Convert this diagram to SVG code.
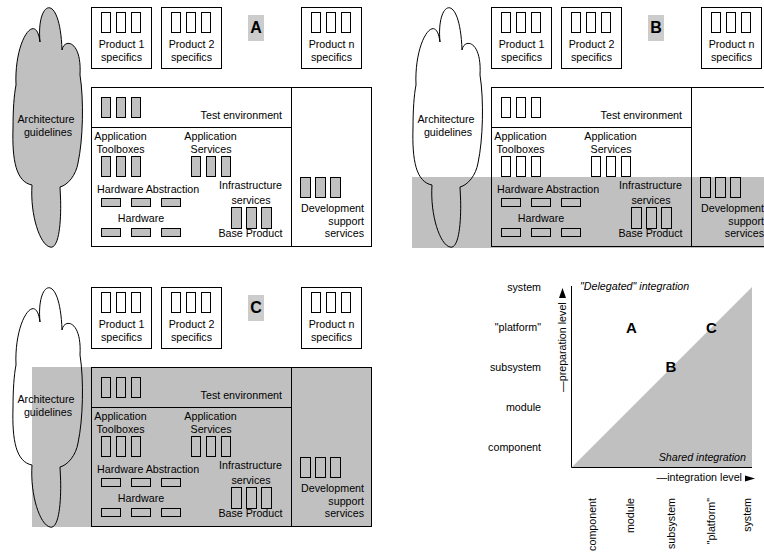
<svg xmlns="http://www.w3.org/2000/svg" width="764" height="553" viewBox="0 0 764 553">
<style>
.box{fill:none;stroke:#000;stroke-width:1}
.gbox{fill:#c0c0c0;stroke:#000;stroke-width:1}
.band{fill:#c0c0c0;stroke:none}
.lab{fill:#cccccc;stroke:none}
.ln{stroke:#000;stroke-width:1;fill:none}
.ah{fill:#000;stroke:none}
text{font-family:"Liberation Sans",Arial,Helvetica,sans-serif;font-size:10.7px;fill:#000}
.m{text-anchor:middle}
.e{text-anchor:end}
.i{font-style:italic}
.big{font-weight:bold;font-size:16px}
.mid{font-weight:bold;font-size:15px}
</style>
<defs>
<path id="cloud" d="M50,247 C40,245 30,215 32,185 C16,182 12,160 13,128 C13,110 14,95 16,85 C14,40 36,10 40,42 C36,0 60,-10 62,50 C64,38 82,40 80,75 C84,100 83,140 78,163 C76,175 68,185 60,187 C62,215 60,250 50,247 Z"/>
</defs>

<!-- ================= Panel A ================= -->
<g id="panelA">
  <g id="A-cloud">
    <use href="#cloud" class="gbox"/>
    <text class="m" x="46" y="123">Architecture</text>
    <text class="m" x="48" y="136">guidelines</text>
  </g>
  <g id="A-prod1">
    <rect class="box" x="91.5" y="7.5" width="60" height="61"/>
    <rect class="box" x="101.5" y="12.5" width="9" height="20"/><rect class="box" x="116.5" y="12.5" width="9" height="20"/><rect class="box" x="131.5" y="12.5" width="9" height="20"/>
    <text class="m" x="121.5" y="47.5">Product 1</text><text class="m" x="121.5" y="61">specifics</text>
  </g>
  <g id="A-prod2">
    <rect class="box" x="161.5" y="7.5" width="60" height="61"/>
    <rect class="box" x="171.5" y="12.5" width="9" height="20"/><rect class="box" x="186.5" y="12.5" width="9" height="20"/><rect class="box" x="201.5" y="12.5" width="9" height="20"/>
    <text class="m" x="191.5" y="47.5">Product 2</text><text class="m" x="191.5" y="61">specifics</text>
  </g>
  <g id="A-label"><rect class="lab" x="248" y="15" width="16" height="26"/><text class="m big" x="256" y="33">A</text></g>
  <g id="A-prodn">
    <rect class="box" x="301.5" y="7.5" width="60" height="61"/>
    <rect class="box" x="311.5" y="12.5" width="9" height="20"/><rect class="box" x="326.5" y="12.5" width="9" height="20"/><rect class="box" x="341.5" y="12.5" width="9" height="20"/>
    <text class="m" x="331.5" y="47.5">Product n</text><text class="m" x="331.5" y="61">specifics</text>
  </g>
  <g id="A-main">
    <rect class="box" x="91.5" y="87.5" width="280" height="159"/>
    <path class="ln" d="M291.5,87.5V246.5M91.5,127.5H291.5"/>
  </g>
  <g id="A-test">
    <rect class="gbox" x="101.5" y="97.5" width="9" height="20"/><rect class="gbox" x="116.5" y="97.5" width="9" height="20"/><rect class="gbox" x="131.5" y="97.5" width="9" height="20"/>
    <text class="e" x="282" y="119">Test environment</text>
  </g>
  <g id="A-toolboxes">
    <text class="m" x="120.5" y="139.5">Application</text><text class="m" x="120.5" y="153">Toolboxes</text>
    <rect class="gbox" x="101.5" y="156.5" width="9" height="20"/><rect class="gbox" x="116.5" y="156.5" width="9" height="20"/><rect class="gbox" x="131.5" y="156.5" width="9" height="20"/>
  </g>
  <g id="A-services">
    <text class="m" x="210.5" y="139.5">Application</text><text class="m" x="211" y="153">Services</text>
    <rect class="gbox" x="191.5" y="156.5" width="9" height="20"/><rect class="gbox" x="206.5" y="156.5" width="9" height="20"/><rect class="gbox" x="221.5" y="156.5" width="9" height="20"/>
  </g>
  <g id="A-hwabs">
    <text x="97" y="193">Hardware Abstraction</text>
    <rect class="gbox" x="101.5" y="198.5" width="19" height="8"/><rect class="gbox" x="131.5" y="198.5" width="19" height="8"/><rect class="gbox" x="161.5" y="198.5" width="19" height="8"/>
  </g>
  <g id="A-hw">
    <text class="m" x="141" y="222">Hardware</text>
    <rect class="gbox" x="101.5" y="228.5" width="19" height="8"/><rect class="gbox" x="131.5" y="228.5" width="19" height="8"/><rect class="gbox" x="161.5" y="228.5" width="19" height="8"/>
  </g>
  <g id="A-infra">
    <text class="m" x="250.5" y="189">Infrastructure</text><text class="m" x="251" y="203.5">services</text>
    <rect class="gbox" x="231.5" y="207.5" width="10" height="21"/><rect class="gbox" x="246.5" y="207.5" width="10" height="21"/><rect class="gbox" x="261.5" y="207.5" width="10" height="21"/>
    <text class="m" x="250.5" y="237">Base Product</text>
  </g>
  <g id="A-dev">
    <rect class="gbox" x="300.5" y="177.5" width="10" height="20"/><rect class="gbox" x="315.5" y="177.5" width="10" height="20"/><rect class="gbox" x="330.5" y="177.5" width="10" height="20"/>
    <text class="e" x="364" y="212">Development</text><text class="e" x="364" y="224.5">support</text><text class="e" x="364" y="237">services</text>
  </g>
</g>

<!-- ================= Panel B ================= -->
<g id="panelB" transform="translate(400,0)">
  <rect class="band" x="12" y="177" width="360" height="71"/>
  <g id="B-cloud">
    <use href="#cloud" class="box"/>
    <text class="m" x="46" y="123">Architecture</text>
    <text class="m" x="48" y="136">guidelines</text>
  </g>
  <g id="B-prod1">
    <rect class="box" x="91.5" y="7.5" width="60" height="61"/>
    <rect class="box" x="101.5" y="12.5" width="9" height="20"/><rect class="box" x="116.5" y="12.5" width="9" height="20"/><rect class="box" x="131.5" y="12.5" width="9" height="20"/>
    <text class="m" x="121.5" y="47.5">Product 1</text><text class="m" x="121.5" y="61">specifics</text>
  </g>
  <g id="B-prod2">
    <rect class="box" x="161.5" y="7.5" width="60" height="61"/>
    <rect class="box" x="171.5" y="12.5" width="9" height="20"/><rect class="box" x="186.5" y="12.5" width="9" height="20"/><rect class="box" x="201.5" y="12.5" width="9" height="20"/>
    <text class="m" x="191.5" y="47.5">Product 2</text><text class="m" x="191.5" y="61">specifics</text>
  </g>
  <g id="B-label"><rect class="lab" x="248" y="15" width="16" height="26"/><text class="m big" x="256" y="33">B</text></g>
  <g id="B-prodn">
    <rect class="box" x="301.5" y="7.5" width="60" height="61"/>
    <rect class="box" x="311.5" y="12.5" width="9" height="20"/><rect class="box" x="326.5" y="12.5" width="9" height="20"/><rect class="box" x="341.5" y="12.5" width="9" height="20"/>
    <text class="m" x="331.5" y="47.5">Product n</text><text class="m" x="331.5" y="61">specifics</text>
  </g>
  <g id="B-main">
    <rect class="box" x="91.5" y="87.5" width="280" height="159"/>
    <path class="ln" d="M291.5,87.5V246.5M91.5,127.5H291.5"/>
  </g>
  <g id="B-test">
    <rect class="box" x="101.5" y="97.5" width="9" height="20"/><rect class="box" x="116.5" y="97.5" width="9" height="20"/><rect class="box" x="131.5" y="97.5" width="9" height="20"/>
    <text class="e" x="282" y="119">Test environment</text>
  </g>
  <g id="B-toolboxes">
    <text class="m" x="120.5" y="139.5">Application</text><text class="m" x="120.5" y="153">Toolboxes</text>
    <rect class="box" x="101.5" y="156.5" width="9" height="20"/><rect class="box" x="116.5" y="156.5" width="9" height="20"/><rect class="box" x="131.5" y="156.5" width="9" height="20"/>
  </g>
  <g id="B-services">
    <text class="m" x="210.5" y="139.5">Application</text><text class="m" x="211" y="153">Services</text>
    <rect class="box" x="191.5" y="156.5" width="9" height="20"/><rect class="box" x="206.5" y="156.5" width="9" height="20"/><rect class="box" x="221.5" y="156.5" width="9" height="20"/>
  </g>
  <g id="B-hwabs">
    <text x="97" y="193">Hardware Abstraction</text>
    <rect class="box" x="101.5" y="198.5" width="19" height="8"/><rect class="box" x="131.5" y="198.5" width="19" height="8"/><rect class="box" x="161.5" y="198.5" width="19" height="8"/>
  </g>
  <g id="B-hw">
    <text class="m" x="141" y="222">Hardware</text>
    <rect class="box" x="101.5" y="228.5" width="19" height="8"/><rect class="box" x="131.5" y="228.5" width="19" height="8"/><rect class="box" x="161.5" y="228.5" width="19" height="8"/>
  </g>
  <g id="B-infra">
    <text class="m" x="250.5" y="189">Infrastructure</text><text class="m" x="251" y="203.5">services</text>
    <rect class="box" x="231.5" y="207.5" width="10" height="21"/><rect class="box" x="246.5" y="207.5" width="10" height="21"/><rect class="box" x="261.5" y="207.5" width="10" height="21"/>
    <text class="m" x="250.5" y="237">Base Product</text>
  </g>
  <g id="B-dev">
    <rect class="box" x="300.5" y="177.5" width="10" height="20"/><rect class="box" x="315.5" y="177.5" width="10" height="20"/><rect class="box" x="330.5" y="177.5" width="10" height="20"/>
    <text class="e" x="364" y="212">Development</text><text class="e" x="364" y="224.5">support</text><text class="e" x="364" y="237">services</text>
  </g>
</g>

<!-- ================= Panel C ================= -->
<g id="panelC" transform="translate(0,280)">
  <rect class="band" x="32" y="87" width="340" height="160"/>
  <g id="C-cloud">
    <use href="#cloud" class="box"/>
    <text class="m" x="46" y="123">Architecture</text>
    <text class="m" x="48" y="136">guidelines</text>
  </g>
  <g id="C-prod1">
    <rect class="box" x="91.5" y="7.5" width="60" height="61"/>
    <rect class="box" x="101.5" y="12.5" width="9" height="20"/><rect class="box" x="116.5" y="12.5" width="9" height="20"/><rect class="box" x="131.5" y="12.5" width="9" height="20"/>
    <text class="m" x="121.5" y="47.5">Product 1</text><text class="m" x="121.5" y="61">specifics</text>
  </g>
  <g id="C-prod2">
    <rect class="box" x="161.5" y="7.5" width="60" height="61"/>
    <rect class="box" x="171.5" y="12.5" width="9" height="20"/><rect class="box" x="186.5" y="12.5" width="9" height="20"/><rect class="box" x="201.5" y="12.5" width="9" height="20"/>
    <text class="m" x="191.5" y="47.5">Product 2</text><text class="m" x="191.5" y="61">specifics</text>
  </g>
  <g id="C-label"><rect class="lab" x="248" y="15" width="16" height="26"/><text class="m big" x="256" y="33">C</text></g>
  <g id="C-prodn">
    <rect class="box" x="301.5" y="7.5" width="60" height="61"/>
    <rect class="box" x="311.5" y="12.5" width="9" height="20"/><rect class="box" x="326.5" y="12.5" width="9" height="20"/><rect class="box" x="341.5" y="12.5" width="9" height="20"/>
    <text class="m" x="331.5" y="47.5">Product n</text><text class="m" x="331.5" y="61">specifics</text>
  </g>
  <g id="C-main">
    <rect class="box" x="91.5" y="87.5" width="280" height="159"/>
    <path class="ln" d="M291.5,87.5V246.5M91.5,127.5H291.5"/>
  </g>
  <g id="C-test">
    <rect class="box" x="101.5" y="97.5" width="9" height="20"/><rect class="box" x="116.5" y="97.5" width="9" height="20"/><rect class="box" x="131.5" y="97.5" width="9" height="20"/>
    <text class="e" x="282" y="119">Test environment</text>
  </g>
  <g id="C-toolboxes">
    <text class="m" x="120.5" y="139.5">Application</text><text class="m" x="120.5" y="153">Toolboxes</text>
    <rect class="box" x="101.5" y="156.5" width="9" height="20"/><rect class="box" x="116.5" y="156.5" width="9" height="20"/><rect class="box" x="131.5" y="156.5" width="9" height="20"/>
  </g>
  <g id="C-services">
    <text class="m" x="210.5" y="139.5">Application</text><text class="m" x="211" y="153">Services</text>
    <rect class="box" x="191.5" y="156.5" width="9" height="20"/><rect class="box" x="206.5" y="156.5" width="9" height="20"/><rect class="box" x="221.5" y="156.5" width="9" height="20"/>
  </g>
  <g id="C-hwabs">
    <text x="97" y="193">Hardware Abstraction</text>
    <rect class="box" x="101.5" y="198.5" width="19" height="8"/><rect class="box" x="131.5" y="198.5" width="19" height="8"/><rect class="box" x="161.5" y="198.5" width="19" height="8"/>
  </g>
  <g id="C-hw">
    <text class="m" x="141" y="222">Hardware</text>
    <rect class="box" x="101.5" y="228.5" width="19" height="8"/><rect class="box" x="131.5" y="228.5" width="19" height="8"/><rect class="box" x="161.5" y="228.5" width="19" height="8"/>
  </g>
  <g id="C-infra">
    <text class="m" x="250.5" y="189">Infrastructure</text><text class="m" x="251" y="203.5">services</text>
    <rect class="box" x="231.5" y="207.5" width="10" height="21"/><rect class="box" x="246.5" y="207.5" width="10" height="21"/><rect class="box" x="261.5" y="207.5" width="10" height="21"/>
    <text class="m" x="250.5" y="237">Base Product</text>
  </g>
  <g id="C-dev">
    <rect class="box" x="300.5" y="177.5" width="10" height="20"/><rect class="box" x="315.5" y="177.5" width="10" height="20"/><rect class="box" x="330.5" y="177.5" width="10" height="20"/>
    <text class="e" x="364" y="212">Development</text><text class="e" x="364" y="224.5">support</text><text class="e" x="364" y="237">services</text>
  </g>
</g>

<!-- ================= Chart ================= -->
<g id="chart">
  <g id="shared-area"><polygon class="band" points="572,467 752,467 752,287"/></g>
  <g id="connectors">
    <path class="ln" d="M571.5,286V467.5H752"/>
  </g>
  <g id="y-labels">
    <text class="e" x="541" y="291">system</text>
    <text class="e" x="541" y="331">"platform"</text>
    <text class="e" x="541" y="371">subsystem</text>
    <text class="e" x="541" y="411">module</text>
    <text class="e" x="541" y="451">component</text>
  </g>
  <g id="y-axis-title">
    <text transform="translate(566,392) rotate(-90)">—preparation level</text>
    <polygon class="ah" points="559,298 562.5,288 566,298"/>
  </g>
  <g id="x-labels">
    <text class="e" transform="translate(596,498) rotate(-90)">component</text>
    <text class="e" transform="translate(634,498) rotate(-90)">module</text>
    <text class="e" transform="translate(675,498) rotate(-90)">subsystem</text>
    <text class="e" transform="translate(715,498) rotate(-90)">"platform"</text>
    <text class="e" transform="translate(751,498) rotate(-90)">system</text>
  </g>
  <g id="x-axis-title">
    <text class="e" x="742" y="481">—integration level</text>
    <polygon class="ah" points="745,475.5 755,478.5 745,481.5"/>
  </g>
  <g id="delegated"><text class="i" x="580" y="290">"Delegated" integration</text></g>
  <g id="shared"><text class="i e" x="746" y="461">Shared integration</text></g>
  <g id="chart-A"><text class="m mid" x="631.5" y="333">A</text></g>
  <g id="chart-B"><text class="m mid" x="671" y="372">B</text></g>
  <g id="chart-C"><text class="m mid" x="711.5" y="333">C</text></g>
</g>
</svg>
